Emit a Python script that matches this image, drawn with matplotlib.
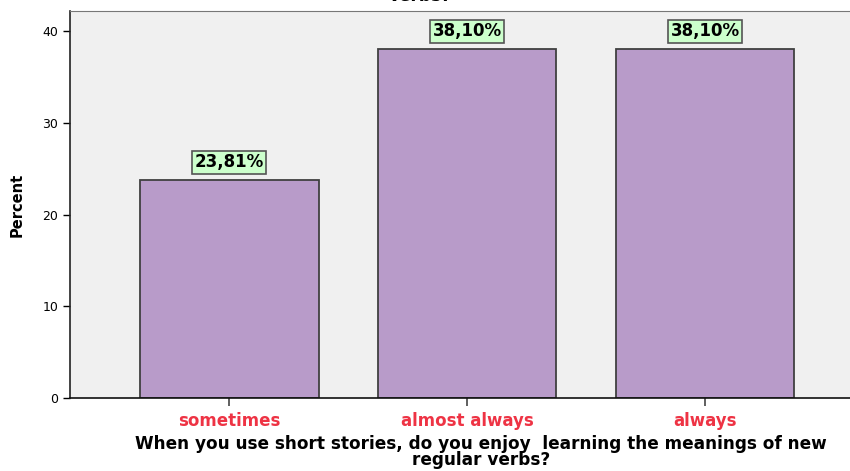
import matplotlib
matplotlib.use("Agg")
import matplotlib.pyplot as plt

# data
categories = ["sometimes", "almost always", "always"]
percents = [23.81, 38.10, 38.10]
labels = ["23,81%", "38,10%", "38,10%"]
yticks = [0, 10, 20, 30, 40]

fig = plt.figure(figsize=(8.5, 4.71), dpi=100)
ax = fig.add_axes([70 / 850, 1 - 398 / 471, 1 - 70 / 850, (398 - 11) / 471])
ax.set_facecolor("#F0F0F0")

x = list(range(len(categories)))
bars = ax.bar(x, percents, width=0.75, color="#B89BC9",
              edgecolor="#404040", linewidth=1.3)

for b, lab in zip(bars, labels):
    ax.annotate(lab, (b.get_x() + b.get_width() / 2, b.get_height()),
                xytext=(0, 6), textcoords="offset points",
                ha="center", va="bottom", fontsize=12, fontweight="bold",
                bbox=dict(boxstyle="square,pad=0.15", facecolor="#CCFFCC",
                          edgecolor="#555555", linewidth=1.2))

ax.set_xlim(-0.67, 2.61)
ax.set_ylim(0, 42.2)
ax.set_yticks(yticks)
ax.tick_params(axis="y", labelsize=9, length=5, width=1, direction="out")
ax.set_xticks(x)
ax.set_xticklabels(categories, color="#EE3344", fontsize=12, fontweight="bold")
ax.tick_params(axis="x", length=6, width=1.2, color="#444444", pad=4)

ax.spines["right"].set_visible(False)
ax.spines["top"].set_color("#777777")
ax.spines["left"].set_color("#222222")
ax.spines["bottom"].set_color("#111111")
ax.spines["left"].set_linewidth(1.2)
ax.spines["bottom"].set_linewidth(1.2)

ax.set_ylabel("Percent", fontsize=10.5, fontweight="bold")
ax.yaxis.set_label_coords(-0.058, 0.5)

fig.text(0.566, 1 - 452 / 471,
         "When you use short stories, do you enjoy  learning the meanings of new\nregular verbs?",
         ha="center", va="center", fontsize=12.2, fontweight="bold",
         linespacing=0.82)
fig.text(0.494, 1 - 5 / 471, "verbs?", ha="center", va="bottom",
         fontsize=12.2, fontweight="bold")

fig.savefig("out.png", dpi=100)
